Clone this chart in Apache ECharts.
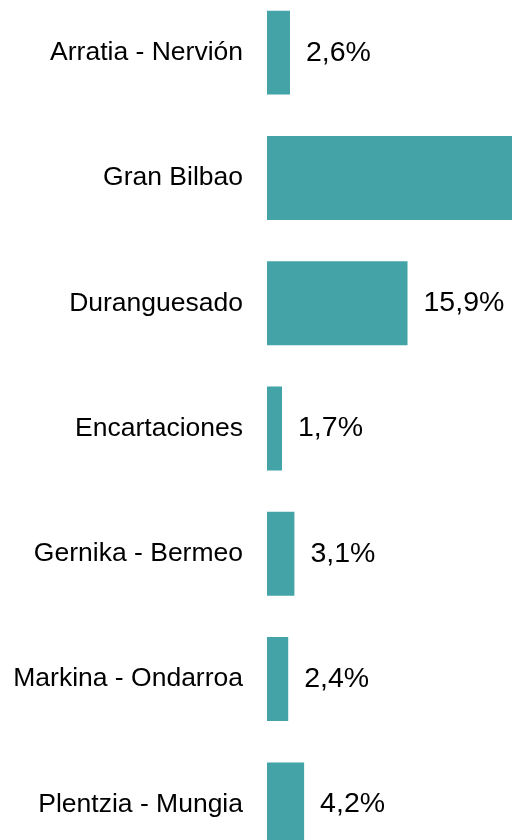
<!DOCTYPE html>
<html>
<head>
<meta charset="utf-8">
<script src="https://cdn.jsdelivr.net/npm/echarts@6/dist/echarts.min.js"></script>
<style>
  html, body { margin: 0; padding: 0; background: #fff; }
  #main { width: 512px; height: 840px; }
</style>
</head>
<body>
<div id="main"></div>
<script>
// comarcas (top to bottom)
var comarcas = ['Arratia - Nervión', 'Gran Bilbao', 'Duranguesado', 'Encartaciones',
  'Gernika - Bermeo', 'Markina - Ondarroa', 'Plentzia - Mungia']
// percentage share; Gran Bilbao runs off the picture, estimated as the remainder
var porcentajes = [2.6, 70.1, 15.9, 1.7, 3.1, 2.4, 4.2]

var myChart = echarts.init(document.getElementById('main'))
myChart.setOption({
    animation: false,
    grid: {
        left: 267,
        top: -10,
        width: 707,
        height: 877,
        outerBoundsMode: 'none',
        containLabel: false
    },
    xAxis: {
        type: 'value',
        min: 0,
        max: 80,
        show: false
    },
    yAxis: {
        type: 'category',
        inverse: true,
        data: comarcas,
        axisLine: { show: false },
        axisTick: { show: false },
        axisLabel: {
            margin: 24,
            fontSize: 26.5,
            color: '#000',
            fontFamily: 'Liberation Sans, Arial, sans-serif'
        }
    },
    series: [{
        type: 'bar',
        data: porcentajes,
        barCategoryGap: '33%',
        itemStyle: { color: '#43A3A6' },
        label: {
            show: true,
            position: 'right',
            distance: 16,
            fontSize: 28.5,
            color: '#000',
            fontFamily: 'Liberation Sans, Arial, sans-serif',
            formatter: function (p) {
                return p.value.toFixed(1).replace('.', ',') + '%'
            }
        }
    }]
})
</script>
</body>
</html>
